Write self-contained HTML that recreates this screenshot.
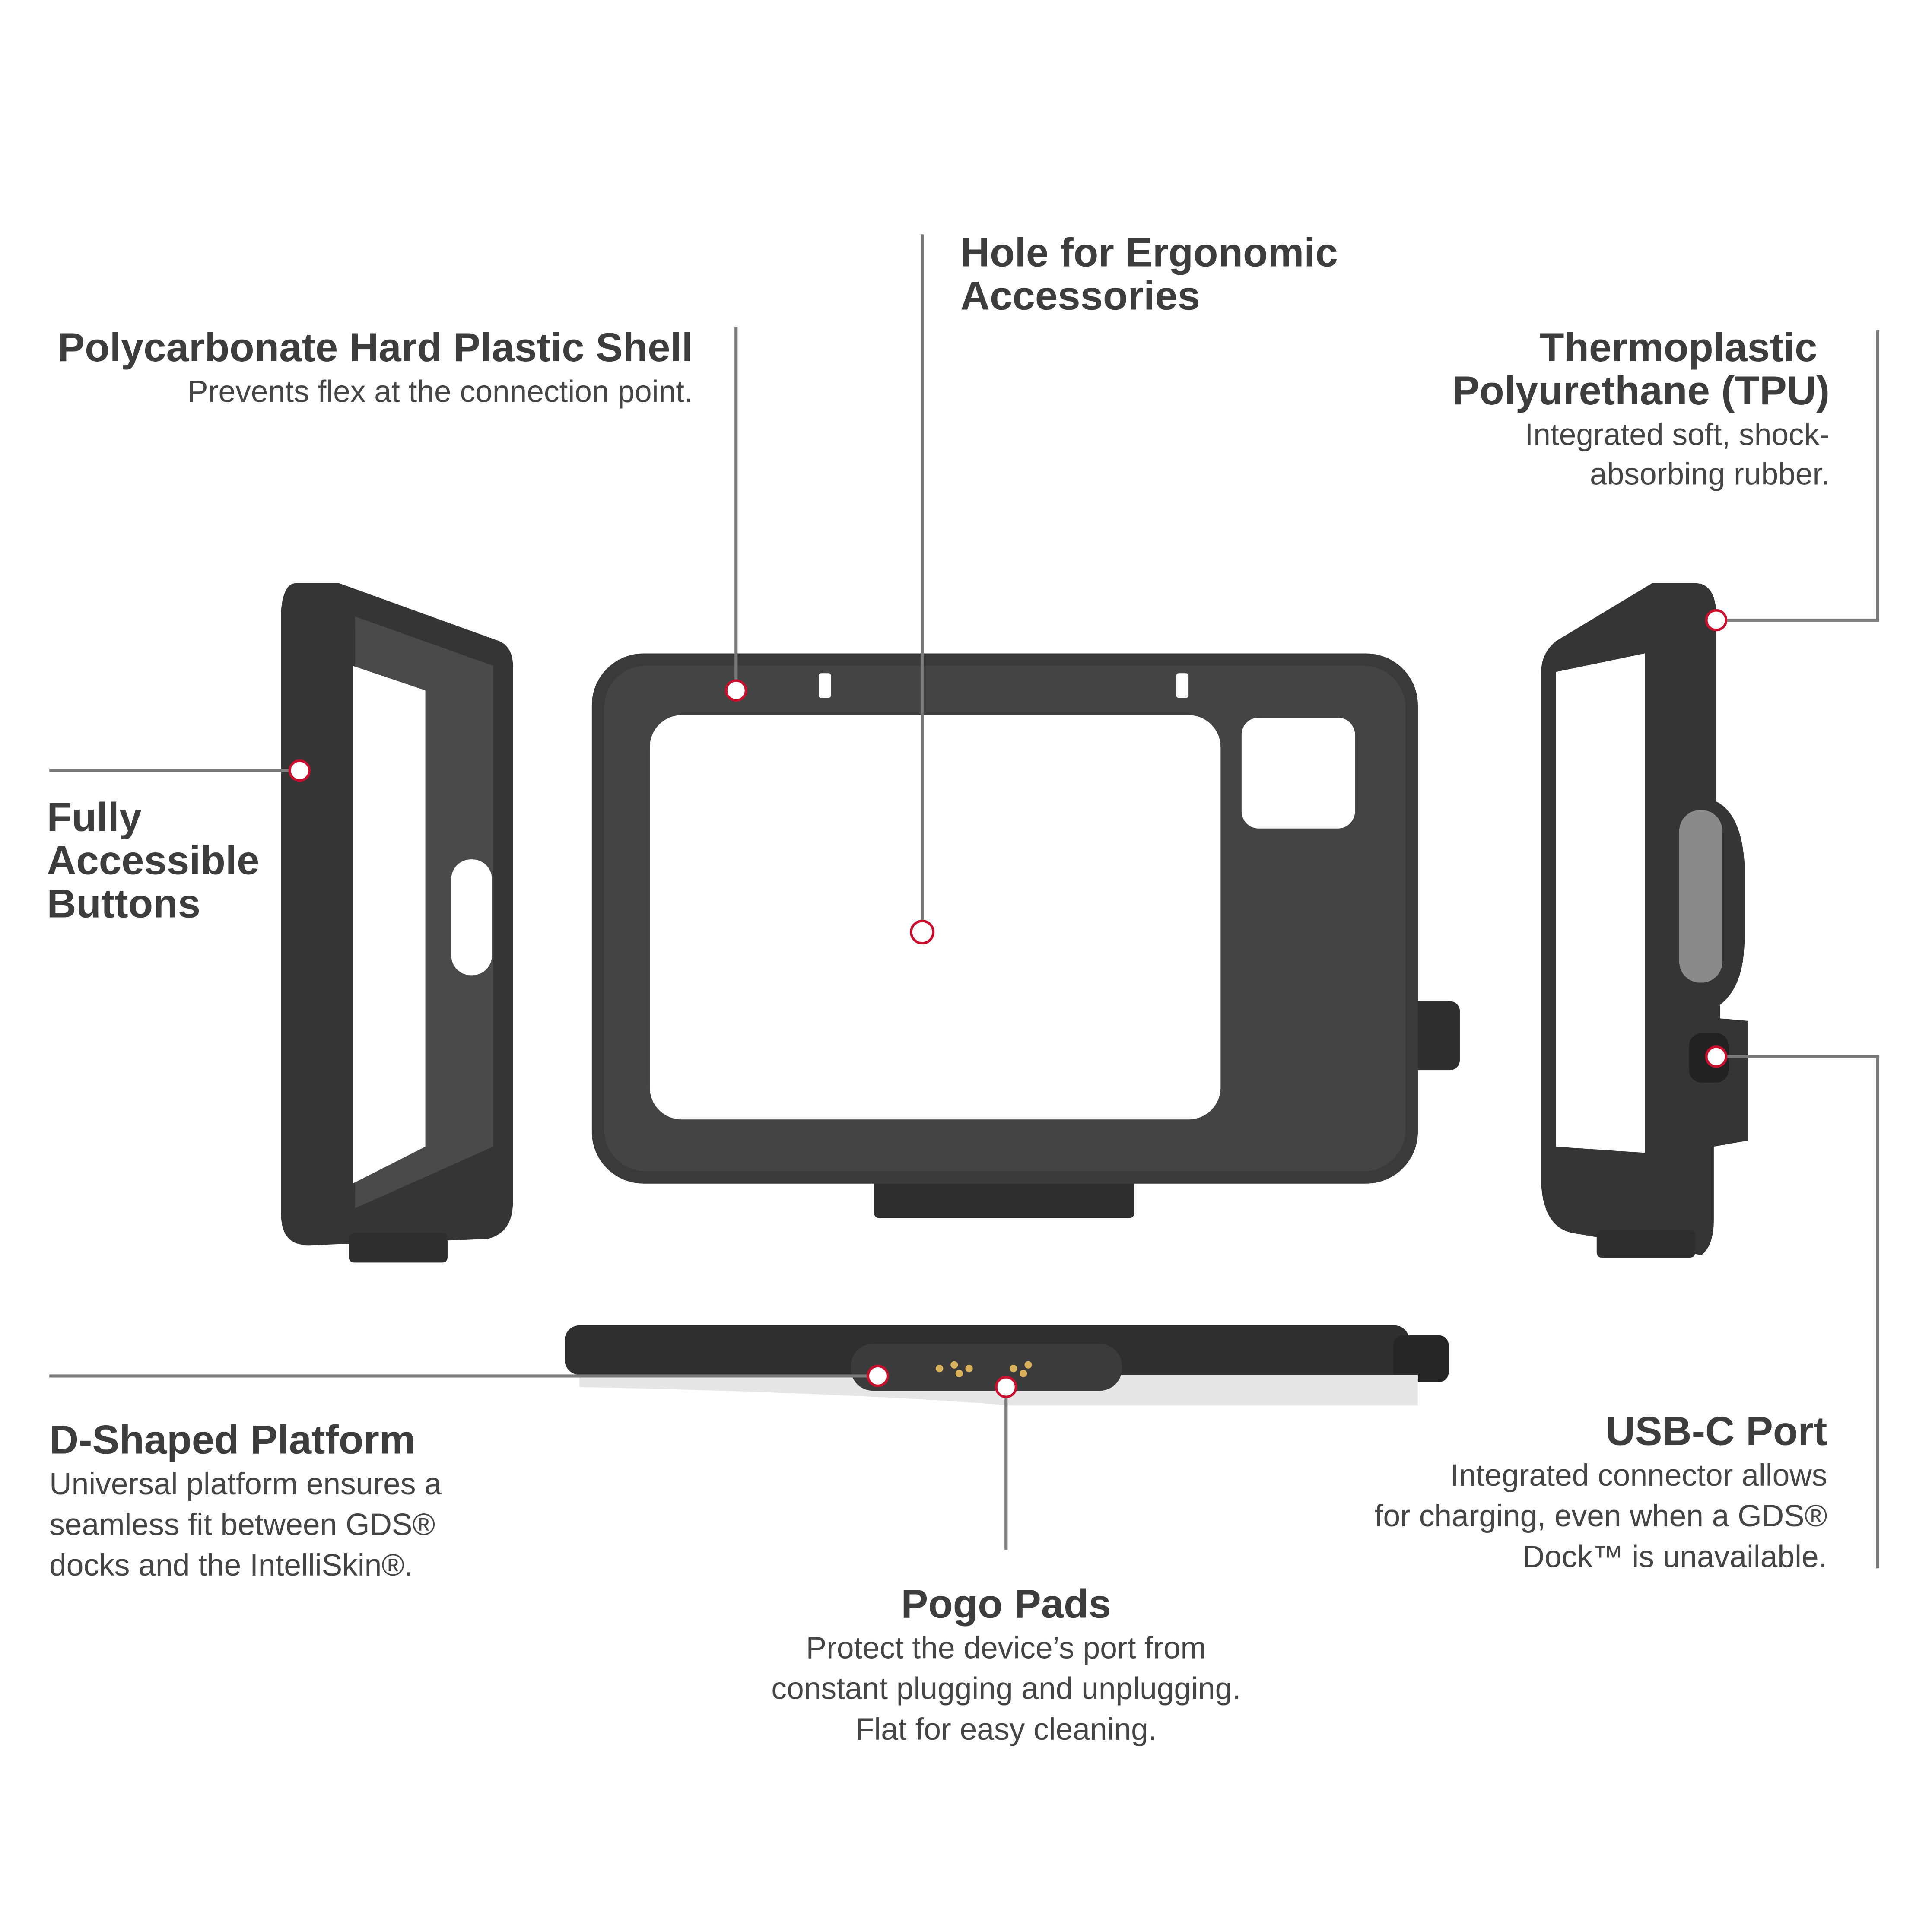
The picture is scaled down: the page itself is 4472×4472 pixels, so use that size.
<!DOCTYPE html>
<html><head><meta charset="utf-8"><style>
html,body{margin:0;padding:0;background:#fff;}
svg{display:block;}
text{font-family:"Liberation Sans",Arial,sans-serif;fill:#3d3d3d;}
.h{font-weight:bold;font-size:33px;}
.s{font-size:25px;fill:#454545;}
</style></head><body>
<svg width="4472" height="4472" viewBox="0 0 1567 1567" xmlns="http://www.w3.org/2000/svg">
<rect width="1567" height="1567" fill="#fff"/>
<!-- center frame -->
<rect x="709" y="950" width="211" height="38" rx="4" fill="#2e2e2e"/>
<rect x="1140" y="812" width="44" height="56" rx="8" fill="#2e2e2e"/>
<rect x="480" y="530" width="670" height="430" rx="42" fill="#3a3a3a"/>
<rect x="490" y="540" width="650" height="410" rx="34" fill="#444"/>
<rect x="527" y="580" width="463" height="328" rx="26" fill="#fff"/>
<rect x="1007" y="582" width="92" height="90" rx="14" fill="#fff"/>
<rect x="664" y="546" width="10" height="20" rx="2" fill="#fff"/>
<rect x="954" y="546" width="10" height="20" rx="2" fill="#fff"/>
<!-- left side frame -->
<path d="M240 473 L275 473 L405 520 Q416 525 416 540 L416 975 Q416 1000 395 1005 L250 1010 Q228 1010 228 985 L228 495 Q230 473 240 473 Z" fill="#353535"/>
<path d="M288 500 L400 540 L400 930 L288 980 Z" fill="#4a4a4a"/>
<path d="M286 540 L345 560 L345 930 L286 960 Z" fill="#fff"/>
<rect x="366" y="697" width="33" height="94" rx="16" fill="#fff"/>
<rect x="283" y="1000" width="80" height="24" rx="4" fill="#2e2e2e"/>
<!-- right side frame -->
<path d="M1375 473 L1340 473 L1262 520 Q1250 530 1250 545 L1250 960 Q1252 995 1275 1000 L1380 1018 Q1390 1010 1390 990 L1390 930 L1418 925 L1418 828 L1395 826 L1395 815 Q1415 800 1415 760 L1415 700 Q1412 660 1392 650 L1392 495 Q1390 473 1375 473 Z" fill="#353535"/>
<path d="M1262 545 L1334 530 L1334 935 L1262 930 Z" fill="#fff"/>
<rect x="1362" y="657" width="35" height="140" rx="17" fill="#8a8a8a"/>
<rect x="1370" y="838" width="32" height="40" rx="10" fill="#222"/>
<rect x="1295" y="998" width="80" height="22" rx="4" fill="#2e2e2e"/>
<!-- bottom bar -->
<rect x="458" y="1075" width="685" height="40" rx="12" fill="#2f2f2f"/>
<rect x="1130" y="1083" width="45" height="38" rx="8" fill="#262626"/>
<path d="M470 1115 L1150 1115 L1150 1140 L820 1140 Q700 1130 470 1125 Z" fill="#e6e6e6"/>
<rect x="690" y="1090" width="220" height="38" rx="18" fill="#3b3b3b"/>
<g fill="#d9b15a"><circle cx="762" cy="1110" r="3"/><circle cx="774" cy="1107" r="3"/><circle cx="786" cy="1110" r="3"/><circle cx="822" cy="1110" r="3"/><circle cx="834" cy="1107" r="3"/><circle cx="778" cy="1114" r="3"/><circle cx="830" cy="1114" r="3"/></g>
<!-- leader lines -->
<g stroke="#7a7a7a" stroke-width="2.5" fill="none">
<line x1="597" y1="265" x2="597" y2="552"/>
<line x1="748" y1="190" x2="748" y2="748"/>
<polyline points="1523,268 1523,503 1400,503"/>
<line x1="40" y1="625" x2="235" y2="625"/>
<line x1="40" y1="1116" x2="704" y2="1116"/>
<line x1="816" y1="1133" x2="816" y2="1257"/>
<polyline points="1523,1272 1523,857 1400,857"/>
</g>
<g stroke="#c8102e" stroke-width="2" fill="#fff">
<circle cx="597" cy="560" r="8"/><circle cx="748" cy="756" r="9"/><circle cx="1392" cy="503" r="8"/>
<circle cx="243" cy="625" r="8"/><circle cx="712" cy="1116" r="8"/><circle cx="816" cy="1125" r="8"/><circle cx="1392" cy="857" r="8"/>
</g>
<!-- text -->
<text class="h" x="562" y="293" text-anchor="end">Polycarbonate Hard Plastic Shell</text>
<text class="s" x="562" y="326" text-anchor="end">Prevents flex at the connection point.</text>
<text class="h" x="779" y="216">Hole for Ergonomic</text>
<text class="h" x="779" y="251">Accessories</text>
<text class="h" x="1474" y="293" text-anchor="end">Thermoplastic</text>
<text class="h" x="1484" y="328" text-anchor="end">Polyurethane (TPU)</text>
<text class="s" x="1484" y="361" text-anchor="end">Integrated soft, shock-</text>
<text class="s" x="1484" y="393" text-anchor="end">absorbing rubber.</text>
<text class="h" x="38" y="674">Fully</text>
<text class="h" x="38" y="709">Accessible</text>
<text class="h" x="38" y="744">Buttons</text>
<text class="h" x="40" y="1179">D-Shaped Platform</text>
<text class="s" x="40" y="1212">Universal platform ensures a</text>
<text class="s" x="40" y="1245">seamless fit between GDS®</text>
<text class="s" x="40" y="1278">docks and the IntelliSkin®.</text>
<text class="h" x="816" y="1312" text-anchor="middle">Pogo Pads</text>
<text class="s" x="816" y="1345" text-anchor="middle">Protect the device’s port from</text>
<text class="s" x="816" y="1378" text-anchor="middle">constant plugging and unplugging.</text>
<text class="s" x="816" y="1411" text-anchor="middle">Flat for easy cleaning.</text>
<text class="h" x="1482" y="1172" text-anchor="end">USB-C Port</text>
<text class="s" x="1482" y="1205" text-anchor="end">Integrated connector allows</text>
<text class="s" x="1482" y="1238" text-anchor="end">for charging, even when a GDS®</text>
<text class="s" x="1482" y="1271" text-anchor="end">Dock™ is unavailable.</text>
</svg>
</body></html>
